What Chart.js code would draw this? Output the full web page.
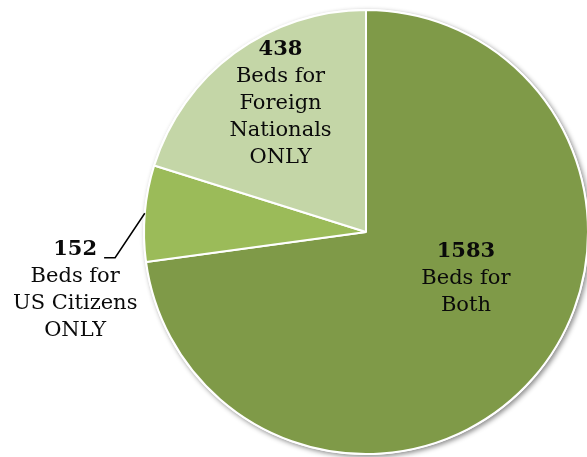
<!DOCTYPE html>
<html>
<head>
<meta charset="utf-8">
<script src="https://cdn.jsdelivr.net/npm/chart.js@4.4.0/dist/chart.umd.min.js"></script>
<style>
  html, body { margin: 0; padding: 0; background: #fff; overflow: hidden; }
  #wrap { position: relative; width: 600px; height: 457px; }
</style>
</head>
<body>
<div id="wrap"><canvas id="bedsChart"></canvas></div>
<script>
const categories = ["Beds for Both", "Beds for US Citizens ONLY", "Beds for Foreign Nationals ONLY"];
const bedCounts = [1583, 152, 438];
const labelLines = [["Beds for", "Both"], ["Beds for", "US Citizens", "ONLY"], ["Beds for", "Foreign", "Nationals", "ONLY"]];
const sliceColors = ["#7f9a48", "#9bbb59", "#c4d6a7"];

const fontFamily = "'DejaVu Serif', 'Liberation Serif', serif";
const fontSize = 21;
const lineHeight = 27;

// label placement, as fractions of the radius from the pie centre (dx, dy) of the number line
const labelPlacement = [
    { dx: 0.45, dy: 0.09, inside: true },
    { dx: -1.31, dy: 0.08, inside: false },
    { dx: -0.385, dy: -0.823, inside: true }
];

const shadowPlugin = {
    id: "pieShadow",
    beforeDatasetsDraw(chart) {
        const arc = chart.getDatasetMeta(0).data[0];
        if (!arc) return;
        const ctx = chart.ctx;
        ctx.save();
        ctx.shadowColor = "rgba(0,0,0,0.45)";
        ctx.shadowBlur = 5;
        ctx.shadowOffsetX = 2;
        ctx.shadowOffsetY = 2;
        ctx.fillStyle = "#ffffff";
        ctx.beginPath();
        ctx.arc(arc.x, arc.y, arc.outerRadius + 1, 0, Math.PI * 2);
        ctx.fill();
        ctx.restore();
    }
};

const labelPlugin = {
    id: "sliceLabels",
    afterDatasetsDraw(chart) {
        const ctx = chart.ctx;
        const arcs = chart.getDatasetMeta(0).data;
        ctx.save();
        ctx.fillStyle = "#0a0a0a";
        ctx.textAlign = "center";
        ctx.textBaseline = "middle";
        arcs.forEach((arc, i) => {
            const r = arc.outerRadius;
            const p = labelPlacement[i];
            const x = arc.x + p.dx * r;
            const y = arc.y + p.dy * r;
            ctx.font = `bold ${fontSize}px ${fontFamily}`;
            ctx.fillText(String(bedCounts[i]), x, y);
            ctx.font = `${fontSize}px ${fontFamily}`;
            labelLines[i].forEach((line, j) => {
                ctx.fillText(line, x, y + (j + 1) * lineHeight);
            });
            if (!p.inside) {
                // leader line from slice edge to the number
                const mid = (arc.startAngle + arc.endAngle) / 2;
                const ex = arc.x + Math.cos(mid) * r;
                const ey = arc.y + Math.sin(mid) * r;
                ctx.font = `bold ${fontSize}px ${fontFamily}`;
                const w = ctx.measureText(String(bedCounts[i])).width;
                const sx = x + w / 2 + 7;
                const sy = y + 8;
                ctx.strokeStyle = "#000";
                ctx.lineWidth = 1.5;
                ctx.beginPath();
                ctx.moveTo(sx, sy);
                ctx.lineTo(sx + 11, sy);
                ctx.lineTo(ex, ey);
                ctx.stroke();
            }
        });
        ctx.restore();
    }
};

new Chart(document.getElementById("bedsChart"), {
    type: "pie",
    data: {
        labels: categories,
        datasets: [{
            data: bedCounts,
            backgroundColor: sliceColors,
            borderColor: "#ffffff",
            borderWidth: 2
        }]
    },
    options: {
        responsive: true,
        maintainAspectRatio: false,
        animation: false,
        layout: { padding: { left: 143, right: 11, top: 9, bottom: 2 } },
        plugins: {
            legend: { display: false },
            tooltip: { enabled: false }
        }
    },
    plugins: [shadowPlugin, labelPlugin]
});
</script>
</body>
</html>
